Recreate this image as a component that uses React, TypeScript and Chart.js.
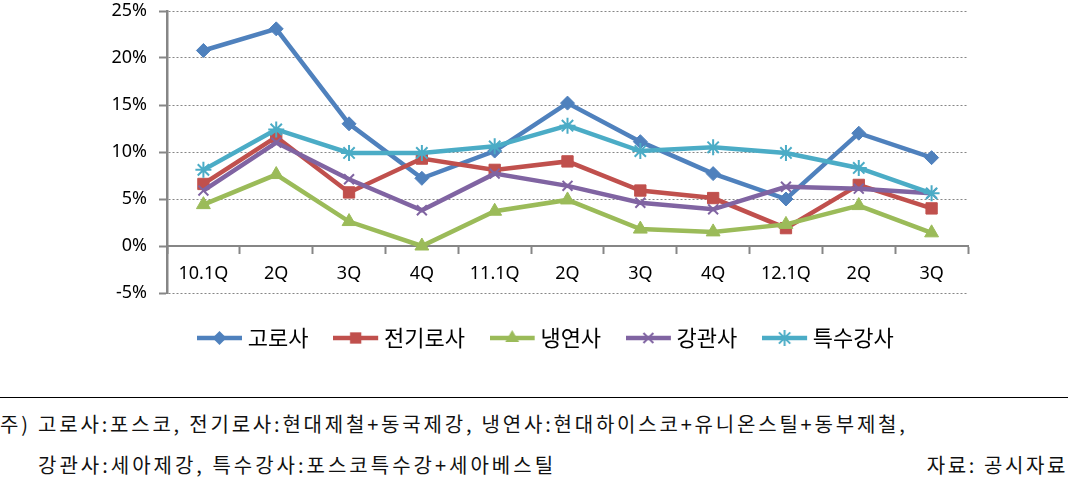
import React, { useEffect, useRef } from 'react';
import { Chart, registerables } from 'chart.js';

Chart.register(...registerables);

// ---- data ----
const categories = ['10.1Q', '2Q', '3Q', '4Q', '11.1Q', '2Q', '3Q', '4Q', '12.1Q', '2Q', '3Q'];
const seriesNames = ['고로사', '전기로사', '냉연사', '강관사', '특수강사'];
const goroValues = [20.8, 23.1, 13.0, 7.2, 10.1, 15.2, 11.1, 7.7, 5.0, 12.0, 9.4];
const jeongiroValues = [6.6, 11.6, 5.7, 9.3, 8.1, 9.0, 5.9, 5.1, 1.9, 6.5, 4.0];
const naengyeonValues = [4.4, 7.6, 2.6, 0.0, 3.7, 4.9, 1.8, 1.5, 2.3, 4.3, 1.4];
const gangwanValues = [5.9, 11.0, 7.1, 3.8, 7.7, 6.4, 4.6, 3.9, 6.3, 6.1, 5.6];
const teuksuValues = [8.1, 12.4, 9.9, 9.9, 10.6, 12.8, 10.1, 10.5, 9.9, 8.3, 5.6];
const yMin = -5;
const yMax = 25;
const yStep = 5;
const noteLine1 = '주) 고로사:포스코, 전기로사:현대제철+동국제강, 냉연사:현대하이스코+유니온스틸+동부제철,';
const noteLine2 = '강관사:세아제강, 특수강사:포스코특수강+세아베스틸';
const sourceText = '자료: 공시자료';

const seriesValues = [goroValues, jeongiroValues, naengyeonValues, gangwanValues, teuksuValues];
const colors = ['#4F81BD', '#C0504D', '#9BBB59', '#8064A2', '#4BACC6'];
const markerStyles = ['rectRot', 'rect', 'triangle', 'crossRot', 'star'];
const markerRadii = [7, 8, 8, 7, 8];

function drawMarker(ctx: CanvasRenderingContext2D, style: string, x: number, y: number, r: number, color: string) {
  ctx.fillStyle = color;
  ctx.strokeStyle = color;
  ctx.lineWidth = 2;
  ctx.setLineDash([]);
  ctx.beginPath();
  if (style === 'rectRot') {
    ctx.moveTo(x, y - r);
    ctx.lineTo(x + r, y);
    ctx.lineTo(x, y + r);
    ctx.lineTo(x - r, y);
    ctx.closePath();
    ctx.fill();
  } else if (style === 'rect') {
    const s = r * Math.SQRT1_2;
    ctx.rect(x - s, y - s, 2 * s, 2 * s);
    ctx.fill();
  } else if (style === 'triangle') {
    ctx.moveTo(x, y - r);
    ctx.lineTo(x + 0.866 * r, y + 0.5 * r);
    ctx.lineTo(x - 0.866 * r, y + 0.5 * r);
    ctx.closePath();
    ctx.fill();
  } else {
    const d = r * Math.SQRT1_2;
    ctx.moveTo(x - d, y - d);
    ctx.lineTo(x + d, y + d);
    ctx.moveTo(x - d, y + d);
    ctx.lineTo(x + d, y - d);
    if (style === 'star') {
      ctx.moveTo(x, y - r);
      ctx.lineTo(x, y + r);
      ctx.moveTo(x - r, y);
      ctx.lineTo(x + r, y);
    }
    ctx.stroke();
  }
}

function makeLegendImage(color: string, style: string, r: number) {
  const c = document.createElement('canvas');
  c.width = 49;
  c.height = 20;
  const ctx = c.getContext('2d')!;
  ctx.strokeStyle = color;
  ctx.lineWidth = 4.5;
  ctx.beginPath();
  ctx.moveTo(0, 10);
  ctx.lineTo(45, 10);
  ctx.stroke();
  drawMarker(ctx, style, 22.5, 10, r, color);
  return c;
}

const LEGEND_FONT = 22;
const LEGEND_PAD = 34;

export default function App() {
  const canvasRef = useRef<HTMLCanvasElement | null>(null);

  useEffect(() => {
    document.body.style.margin = '0';
    const canvas = canvasRef.current;
    if (!canvas) return;
    const legendImages = colors.map((c, i) => makeLegendImage(c, markerStyles[i], markerRadii[i]));
    const grey = '#868686';
    const chart = new Chart(canvas, {
      type: 'line',
      data: {
        labels: categories,
        datasets: seriesNames.map((name, i) => ({
          label: name,
          data: seriesValues[i],
          borderColor: colors[i],
          backgroundColor: colors[i],
          borderWidth: 4.5,
          pointStyle: markerStyles[i] as any,
          pointRadius: markerRadii[i],
          pointHoverRadius: markerRadii[i],
          pointBackgroundColor: colors[i],
          pointBorderColor: colors[i],
          pointBorderWidth: i >= 3 ? 2 : 1,
          tension: 0,
          fill: false,
          order: seriesNames.length - i,
        })),
      },
      options: {
        responsive: false,
        animation: false,
        layout: { padding: { left: 32, right: 0, top: 11, bottom: 0 } },
        plugins: {
          tooltip: { enabled: false },
          legend: {
            position: 'bottom',
            labels: {
              usePointStyle: true,
              pointStyleWidth: 30.5,
              padding: LEGEND_PAD,
              color: '#000',
              font: { family: '"Noto Sans CJK KR", "Noto Sans", sans-serif', size: LEGEND_FONT },
              generateLabels: (ch: any) => {
                const items = (Chart.defaults.plugins.legend.labels as any).generateLabels(ch);
                items.sort((a: any, b: any) => a.datasetIndex - b.datasetIndex);
                return items.map((it: any) => ({ ...it, pointStyle: legendImages[it.datasetIndex] }));
              },
            },
          },
        },
        scales: {
          x: {
            type: 'category',
            offset: true,
            position: { y: 0 } as any,
            grid: {
              drawOnChartArea: false,
              drawTicks: true,
              offset: true,
              tickLength: 7,
              tickWidth: 2,
              tickColor: grey,
              color: grey,
            },
            border: { display: true, color: grey, width: 2 },
            ticks: {
              padding: 10,
              color: '#000',
              maxRotation: 0,
              autoSkip: false,
              font: { family: '"Noto Sans", sans-serif', size: 18 },
            },
          },
          y: {
            min: yMin,
            max: yMax,
            afterFit: (scale: any) => {
              scale.width = 135;
              scale.paddingTop = 0;
              scale.paddingBottom = 0;
            },
            grid: {
              color: grey,
              lineWidth: 1,
              tickLength: 8,
              tickWidth: 2,
              tickColor: grey,
              tickBorderDash: [],
            } as any,
            border: { display: true, color: grey, width: 2.5, dash: [2, 2] },
            ticks: {
              stepSize: yStep,
              padding: 12,
              color: '#000',
              font: { family: '"Noto Sans", sans-serif', size: 18 },
              callback: (v: any) => `${v}%`,
            },
          },
          spacer: {
            type: 'linear',
            position: 'right',
            display: true,
            grid: { display: false, drawTicks: false },
            border: { display: false },
            ticks: { display: false },
            afterFit: (scale: any) => {
              scale.width = 100;
              scale.paddingTop = 0;
              scale.paddingBottom = 0;
            },
          },
        },
      },
    });
    return () => chart.destroy();
  }, []);

  const noteStyle: React.CSSProperties = {
    position: 'absolute',
    fontFamily: '"Noto Sans CJK KR", sans-serif',
    fontSize: 20,
    lineHeight: '20px',
    letterSpacing: '2.8px',
    color: '#111',
    whiteSpace: 'nowrap',
  };
  const canvasHeight = 292 + LEGEND_PAD + LEGEND_FONT + 11;
  return (
    <div style={{ position: 'relative', width: 1068, height: 481, background: '#fff', overflow: 'hidden' }}>
      <canvas ref={canvasRef} width={1068} height={canvasHeight} style={{ position: 'absolute', left: 0, top: 0 }} />
      <div style={{ position: 'absolute', left: 0, top: 397, width: 1068, height: 1, background: '#000' }} />
      <div style={{ ...noteStyle, left: 0, top: 414 }}>{noteLine1}</div>
      <div style={{ ...noteStyle, left: 38, top: 455, letterSpacing: '3px' }}>{noteLine2}</div>
      <div style={{ ...noteStyle, right: 0, top: 455, letterSpacing: '2.6px' }}>{sourceText}</div>
    </div>
  );
}
